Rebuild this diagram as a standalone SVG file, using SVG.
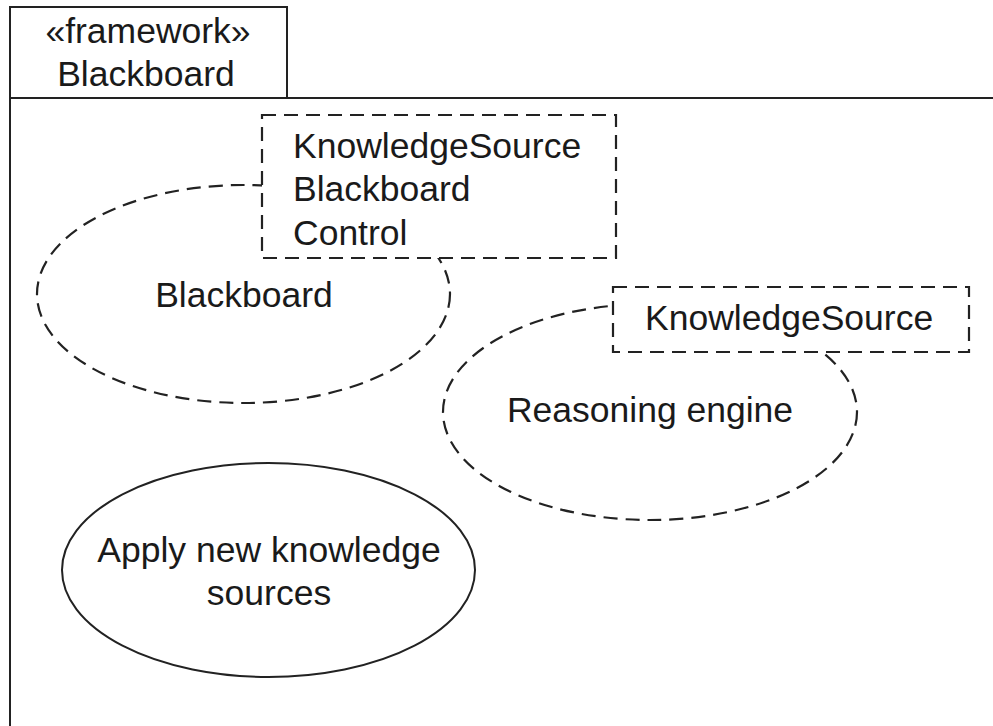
<svg xmlns="http://www.w3.org/2000/svg" width="993" height="726" viewBox="0 0 993 726">
<style>
.t{font-family:"Liberation Sans",Arial,sans-serif;font-size:35.5px;fill:#1a1a1a}
.m{text-anchor:middle}
.solid{fill:none;stroke:#222;stroke-width:2}
.dash{fill:#fff;stroke:#222;stroke-width:2.2;stroke-dasharray:14 8}
.dashn{fill:none;stroke:#222;stroke-width:2.2;stroke-dasharray:14 8}
</style>
<rect width="993" height="726" fill="#fff"/>
<g id="frame">
<rect x="10" y="7" width="277" height="91" class="solid"/>
<path d="M10 98 H993 M10 98 V726" class="solid"/>
<text class="t m" x="148" y="43">«framework»</text>
<text class="t m" x="146" y="86">Blackboard</text>
</g>
<g id="blackboard">
<ellipse cx="243.5" cy="294" rx="206.5" ry="109" class="dashn"/>
<text class="t m" x="244" y="307">Blackboard</text>
</g>
<g id="blackboard-roles">
<rect x="262" y="115" width="354" height="143" class="dash"/>
<text class="t" x="293" y="158">KnowledgeSource</text>
<text class="t" x="293" y="201">Blackboard</text>
<text class="t" x="293" y="245">Control</text>
</g>
<g id="reasoning-engine">
<ellipse cx="650" cy="412" rx="207" ry="108" class="dashn"/>
<text class="t m" x="650" y="422">Reasoning engine</text>
</g>
<g id="reasoning-roles">
<rect x="613" y="287" width="356" height="65" class="dash"/>
<text class="t" x="645" y="330">KnowledgeSource</text>
</g>
<g id="apply">
<ellipse cx="268.5" cy="570" rx="206.5" ry="107" class="solid"/>
<text class="t m" x="269" y="562">Apply new knowledge</text>
<text class="t m" x="269" y="605">sources</text>
</g>
<g id="connectors"></g>
</svg>
